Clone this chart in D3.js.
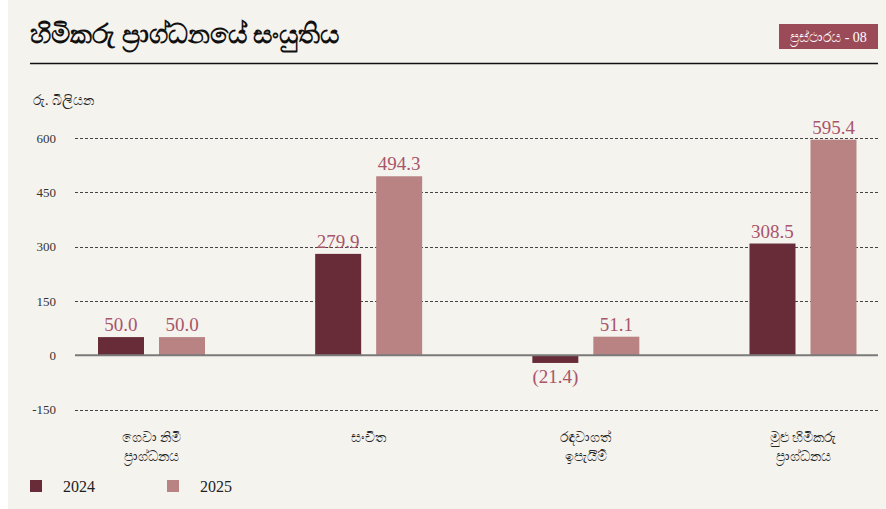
<!DOCTYPE html>
<html>
<head>
<meta charset="utf-8">
<script src="https://cdn.jsdelivr.net/npm/d3@7"></script>
<style>
  body { margin: 0; background: #ffffff; }
  #main { width: 886px; height: 509px; }
  .serif { font-family: "Liberation Serif", "Times New Roman", "DejaVu Serif", serif; }
</style>
</head>
<body>
<div id="main"></div>
<script>
const ctx = {
    w: 886,
    h: 509,
};

const categories = [
    ["ගෙවා නිමි", "ප්‍රාග්ධනය"],
    ["සංචිත"],
    ["රඳවාගත්", "ඉපැයීම්"],
    ["මුළු හිමිකරු", "ප්‍රාග්ධනය"]
];
const years = ["2024", "2025"];
const values2024 = [50.0, 279.9, -21.4, 308.5];
const values2025 = [50.0, 494.3, 51.1, 595.4];
const yTicks = [-150, 0, 150, 300, 450, 600];

const colors = { "2024": "#682c38", "2025": "#b98383" };
const labelColor = "#a8556a";

function createViz() {
    let svgEl = d3.select("#main").append("svg")
        .attr("width", ctx.w)
        .attr("height", ctx.h);

    // fond
    svgEl.append("rect")
        .attr("x", 8).attr("y", 0)
        .attr("width", ctx.w - 8).attr("height", ctx.h)
        .style("fill", "#f5f3ee");

    // titre
    svgEl.append("text")
        .attr("x", 30).attr("y", 43)
        .style("font-size", "26.5px")
        .style("font-weight", "bold")
        .style("fill", "#111")
        .text("හිමිකරු ප්‍රාග්ධනයේ සංයුතිය");

    svgEl.append("rect")
        .attr("x", 779).attr("y", 24)
        .attr("width", 99).attr("height", 25)
        .style("fill", "#9b4a58");
    svgEl.append("text")
        .attr("class", "serif")
        .attr("x", 828.5).attr("y", 42)
        .attr("text-anchor", "middle")
        .style("font-size", "14px")
        .style("fill", "#fff")
        .text("ප්‍රස්ථාරය - 08");

    svgEl.append("line")
        .attr("x1", 30).attr("x2", 878)
        .attr("y1", 63.5).attr("y2", 63.5)
        .style("stroke", "#111")
        .style("stroke-width", 1.5);

    svgEl.append("text")
        .attr("x", 33).attr("y", 105)
        .style("font-size", "14px")
        .style("fill", "#222")
        .text("රු. බිලියන");

    const y = d3.scaleLinear()
        .domain([-150, 600])
        .range([409.5, 138]);

    const keys = categories.map((c, i) => i);
    const x0 = d3.scalePoint()
        .domain(keys)
        .range([151.5, 803]);
    const x1 = d3.scaleBand()
        .domain(years)
        .range([-53.5, 53.5])
        .paddingInner(0.246);

    // axe y
    const yAxis = svgEl.append("g")
        .attr("transform", "translate(75,0)")
        .call(d3.axisLeft(y).tickValues(yTicks).tickSize(0).tickPadding(19).tickFormat(d => String(d)));
    yAxis.select(".domain").remove();
    yAxis.attr("font-family", null);
    yAxis.selectAll("text")
        .attr("class", "serif")
        .style("font-size", "13px")
        .style("fill", "#333");

    // grille
    svgEl.append("g").selectAll("line")
        .data(yTicks.filter(d => d !== 0))
        .enter().append("line")
        .attr("x1", 75).attr("x2", 878)
        .attr("y1", d => Math.round(y(d)) + 0.5)
        .attr("y2", d => Math.round(y(d)) + 0.5)
        .style("stroke", "#444")
        .style("stroke-width", 1)
        .style("stroke-dasharray", "3,2");

    const data = [];
    keys.forEach(i => {
        data.push({ cat: i, year: "2024", value: values2024[i] });
        data.push({ cat: i, year: "2025", value: values2025[i] });
    });

    svgEl.append("g").selectAll("rect")
        .data(data)
        .enter().append("rect")
        .attr("x", d => x0(d.cat) + x1(d.year))
        .attr("width", x1.bandwidth())
        .attr("y", d => y(Math.max(0, d.value)))
        .attr("height", d => Math.abs(y(d.value) - y(0)))
        .style("fill", d => colors[d.year]);

    svgEl.append("line")
        .attr("x1", 75).attr("x2", 878)
        .attr("y1", y(0)).attr("y2", y(0))
        .style("stroke", "#7a7a7a")
        .style("stroke-width", 2);

    // étiquettes de valeurs
    svgEl.append("g").selectAll("text")
        .data(data)
        .enter().append("text")
        .attr("class", "serif")
        .attr("x", d => x0(d.cat) + x1(d.year) + x1.bandwidth() / 2)
        .attr("y", d => d.value >= 0 ? y(d.value) - 6 : y(d.value) + 20)
        .attr("text-anchor", "middle")
        .style("font-size", "19px")
        .style("fill", labelColor)
        .text(d => d.value >= 0 ? d.value.toFixed(1) : "(" + Math.abs(d.value).toFixed(1) + ")");

    // catégories
    const catG = svgEl.append("g").selectAll("text")
        .data(keys)
        .enter().append("text")
        .attr("x", d => x0(d))
        .attr("y", 442)
        .attr("text-anchor", "middle")
        .style("font-size", "14px")
        .style("fill", "#222");
    catG.selectAll("tspan")
        .data(d => categories[d])
        .enter().append("tspan")
        .attr("x", function() { return d3.select(this.parentNode).attr("x"); })
        .attr("dy", (d, i) => i === 0 ? 0 : 19)
        .text(d => d);

    // légende
    const legendX = [30, 167];
    years.forEach((yr, i) => {
        svgEl.append("rect")
            .attr("x", legendX[i]).attr("y", 480)
            .attr("width", 12).attr("height", 12)
            .style("fill", colors[yr]);
        svgEl.append("text")
            .attr("class", "serif")
            .attr("x", legendX[i] + 33).attr("y", 492)
            .style("font-size", "16px")
            .style("fill", "#222")
            .text(yr);
    });
}

createViz();
</script>
</body>
</html>
